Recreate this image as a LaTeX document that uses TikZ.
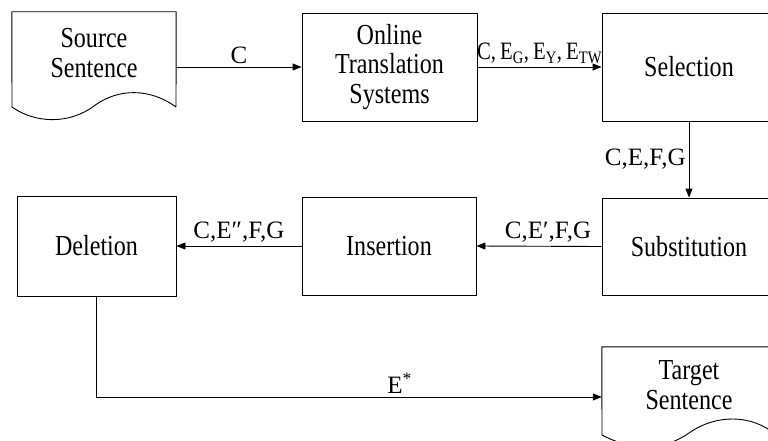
\documentclass[tikz,border=0pt]{standalone}
\usepackage{fontspec}
\setmainfont{Liberation Serif}
\newfontfamily\boxfont{Liberation Serif}[FakeStretch=0.83]
\usetikzlibrary{arrows.meta, positioning}

\begin{document}
\begin{tikzpicture}[
                x=1pt, y=-1pt,
                line join=bevel,
                stepbox/.style={shape=rectangle, draw=black, line width=0.9pt, align=center, inner sep=0pt, font=\boxfont\fontsize{29}{29.5}\selectfont},
                docbox/.style={shape=rectangle, inner sep=0pt},
                doctext/.style={align=center, font=\boxfont\fontsize{29}{29.5}\selectfont},
                flow/.style={-{Triangle[length=9pt,width=7pt]}, line width=0.9pt},
                flowlabel/.style={font=\fontsize{25}{26}\selectfont, inner sep=3pt}
                ]
                %% Frame
                \useasboundingbox (0,0) rectangle (768,441);
                \clip (0,0) rectangle (768,441);

                %% Steps
                \node[stepbox, minimum width=175pt, minimum height=108pt] (onl) at (389.5,67) {Online\\Translation\\Systems};
                \node[stepbox, minimum width=174pt, minimum height=108pt] (sel) at (689,67) {Selection};
                \node[stepbox, minimum width=174pt, minimum height=97pt] (sub) at (689,246.5) {Substitution};
                \node[stepbox, minimum width=174pt, minimum height=98pt] (ins) at (389,246) {Insertion};
                \node[stepbox, minimum width=159pt, minimum height=100pt] (del) at (96.5,246) {Deletion};

                %% Documents
                \node[docbox, minimum width=164pt, minimum height=110pt] (src) at (94,67) {};
                \node[doctext] (srctext) at (94,53) {Source\\Sentence};
                \draw[line width=0.9pt] (src.north west) -- (src.north east) -- (176,107)
                    .. controls (150,88) and (118,88) .. (94,106)
                    .. controls (70,124) and (36,124) .. (12,107) -- cycle;

                \node[docbox, minimum width=174pt, minimum height=100pt] (tgt) at (689,397) {};
                \node[doctext] (tgttext) at (689,385) {Target\\Sentence};
                \draw[line width=0.9pt] (tgt.north west) -- (tgt.north east) -- (776,435)
                    .. controls (752,414) and (716,414) .. (689,433)
                    .. controls (662,452) and (630,450) .. (602,435) -- cycle;

                %% Flow
                \draw[flow] (src.east) -- node[flowlabel, above] {C} (onl.west);
                \draw[flow] (onl.east) -- node[flowlabel, above, font=\boxfont\fontsize{25}{26}\selectfont] {C,\,E\textsubscript{G},\,E\textsubscript{Y},\,E\textsubscript{TW}} (sel.west);
                \draw[flow] (sel.south) -- node[flowlabel, left] {C,E,F,G} (sub.north);
                \draw[flow] (sub.west) -- node[flowlabel, above, xshift=9pt] {C,E′,F,G} (ins.east);
                \draw[flow] (ins.west) -- node[flowlabel, above] {C,E″,F,G} (del.east);
                \draw[flow] (del.south) |- node[flowlabel, above, pos=0.8] {E\textsuperscript{*}} (tgt.west);
\end{tikzpicture}
\end{document}
